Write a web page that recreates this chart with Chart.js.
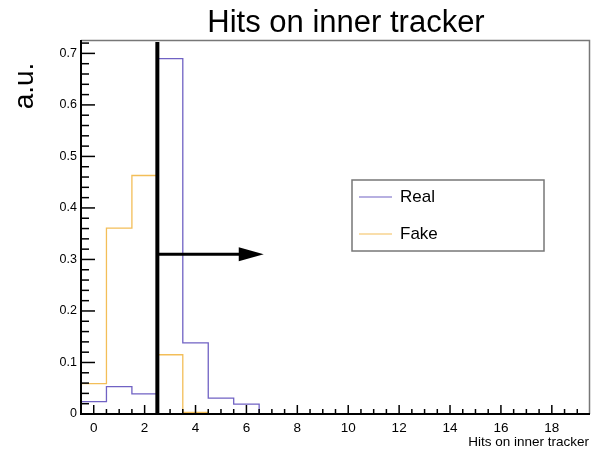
<!DOCTYPE html>
<html>
<head>
<meta charset="utf-8">
<script src="https://cdn.jsdelivr.net/npm/chart.js@4"></script>
<style>
  html, body { margin: 0; padding: 0; background: #fff; }
  #wrap { width: 593px; height: 450px; }
</style>
</head>
<body>
<div id="wrap"><canvas id="myChart" width="593" height="450"></canvas></div>
<script>
// histogram contents, one value per bin (bin i is centred on i hits)
const bins = [0,1,2,3,4,5,6,7,8,9,10,11,12,13,14,15,16,17,18,19];
const real = [0.024,0.053,0.039,0.690,0.138,0.031,0.019,0,0,0,0,0,0,0,0,0,0,0,0,0];
const fake = [0.059,0.361,0.463,0.115,0.003,0,0,0,0,0,0,0,0,0,0,0,0,0,0,0];
const xTicks = [0,2,4,6,8,10,12,14,16,18];
const yTicks = [0,0.1,0.2,0.3,0.4,0.5,0.6,0.7];
const cutValue = 2.5;   // cut on number of hits
const arrowY = 0.31;
const arrowEnd = 6.68;

const realColor = 'rgb(112,98,196)';
const fakeColor = 'rgb(243,190,88)';
const font = "'Liberation Sans', Arial, sans-serif";

// turn bin contents into step points along the bin edges
function histPoints(vals){
  let pts = bins.map((b, i) => ({x: b - 0.5, y: vals[i]}));
  pts.push({x: bins[bins.length-1] + 0.5, y: vals[vals.length-1]});
  return pts;
}

// ROOT-like frame, inward ticks, cut line, arrow, legend and titles
const decor = {
  id: 'decor',
  afterDatasetsDraw(chart){
    const c = chart.ctx, a = chart.chartArea;
    const xs = chart.scales.x, ys = chart.scales.y;
    c.save();
    // frame
    c.strokeStyle = '#777'; c.lineWidth = 1.5;
    c.beginPath();
    c.moveTo(a.left, a.top + 0.5); c.lineTo(a.right - 0.5, a.top + 0.5); c.lineTo(a.right - 0.5, a.bottom);
    c.stroke();
    c.strokeStyle = '#000'; c.lineWidth = 2;
    c.beginPath();
    c.moveTo(a.left, a.top); c.lineTo(a.left, a.bottom); c.lineTo(a.right, a.bottom);
    c.stroke();
    // y ticks
    c.lineWidth = 1.5;
    for (let k = 0; k <= 36; k++){
      const v = k * 0.02;
      const py = ys.getPixelForValue(v);
      if (py < a.top) break;
      const len = (k % 5 === 0) ? 14 : 8;
      c.beginPath(); c.moveTo(a.left, py); c.lineTo(a.left + len, py); c.stroke();
    }
    // x ticks
    for (let k = 0; k <= 38; k++){
      const v = k * 0.5;
      const px = xs.getPixelForValue(v);
      const len = (k % 4 === 0) ? 9 : 5;
      c.beginPath(); c.moveTo(px, a.bottom); c.lineTo(px, a.bottom - len); c.stroke();
    }
    // cut line
    const cx = xs.getPixelForValue(cutValue);
    c.lineWidth = 4;
    c.beginPath(); c.moveTo(cx, a.bottom); c.lineTo(cx, ys.getPixelForValue(0.722)); c.stroke();
    // arrow
    const ay = ys.getPixelForValue(arrowY);
    const ax = xs.getPixelForValue(arrowEnd);
    c.lineWidth = 3;
    c.beginPath(); c.moveTo(cx, ay); c.lineTo(ax - 20, ay); c.stroke();
    c.fillStyle = '#000';
    c.beginPath(); c.moveTo(ax, ay); c.lineTo(ax - 25, ay - 7); c.lineTo(ax - 25, ay + 7); c.closePath(); c.fill();
    // legend
    c.fillStyle = '#fff'; c.fillRect(352, 180, 192, 71);
    c.strokeStyle = '#777'; c.lineWidth = 1.5; c.strokeRect(352, 180, 192, 71);
    c.lineWidth = 1.2;
    c.strokeStyle = realColor; c.beginPath(); c.moveTo(359, 197); c.lineTo(392, 197); c.stroke();
    c.strokeStyle = fakeColor; c.beginPath(); c.moveTo(359, 234); c.lineTo(392, 234); c.stroke();
    c.fillStyle = '#000'; c.font = '17px ' + font; c.textBaseline = 'middle'; c.textAlign = 'left';
    c.fillText('Real', 400, 197);
    c.fillText('Fake', 400, 234);
    // titles
    c.textBaseline = 'alphabetic';
    c.font = '31px ' + font; c.textAlign = 'center';
    c.fillText('Hits on inner tracker', 346, 32);
    c.font = '13.5px ' + font; c.textAlign = 'right';
    c.fillText('Hits on inner tracker', 589, 446);
    c.save();
    c.translate(33, 86); c.rotate(-Math.PI / 2);
    c.font = '28px ' + font; c.textAlign = 'center';
    c.fillText('a.u.', 0, 0);
    c.restore();
    c.restore();
  }
};

const ctx = document.getElementById('myChart');
const chart = new Chart(ctx, {
  type: 'line',
  data: {
    datasets: [
      { label: 'Fake', data: histPoints(fake), stepped: 'before', borderColor: fakeColor, borderWidth: 1.3, pointRadius: 0, fill: false },
      { label: 'Real', data: histPoints(real), stepped: 'before', borderColor: realColor, borderWidth: 1.3, pointRadius: 0, fill: false }
    ]
  },
  options: {
    responsive: false,
    animation: false,
    layout: { padding: { top: 40, right: 3, left: 0, bottom: 0 } },
    plugins: { legend: { display: false }, title: { display: false }, tooltip: { enabled: false } },
    scales: {
      x: {
        type: 'linear', min: -0.5, max: 19.5,
        grid: { display: false, drawTicks: false },
        border: { display: false },
        afterBuildTicks: s => { s.ticks = xTicks.map(v => ({value: v})); },
        afterFit: s => { s.height = 36; },
        ticks: { color: '#000', padding: 6, maxRotation: 0, font: { family: font, size: 13.5 } }
      },
      y: {
        min: 0, max: 0.726,
        grid: { display: false, drawTicks: false },
        border: { display: false },
        afterBuildTicks: s => { s.ticks = yTicks.map(v => ({value: v})); },
        afterFit: s => { s.width = 81; },
        ticks: { color: '#000', padding: 4, font: { family: font, size: 12.5 } }
      }
    }
  },
  plugins: [decor]
});
</script>
</body>
</html>
